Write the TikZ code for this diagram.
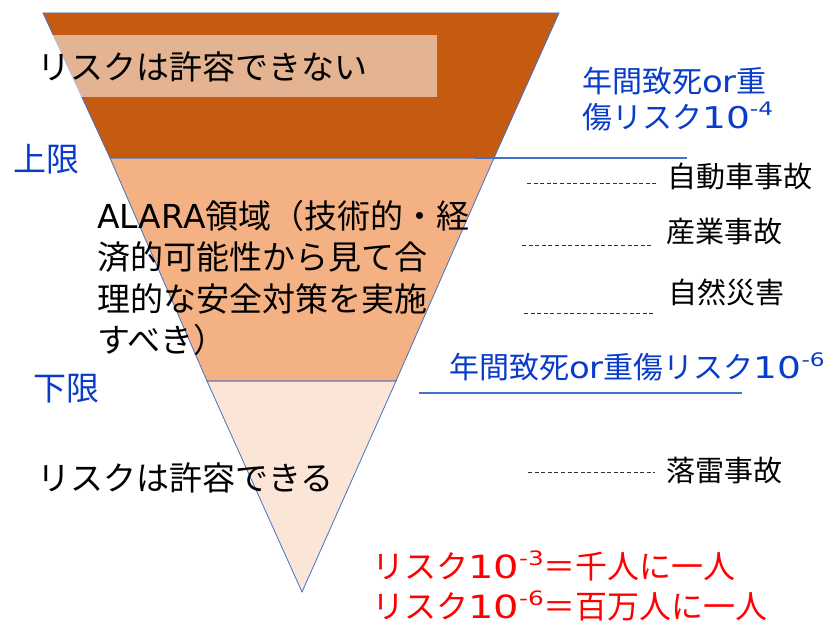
\documentclass[tikz,border=0pt]{standalone}
\usepackage{fontspec}
\setmainfont{Noto Sans CJK JP}
\newfontfamily\lat[FakeStretch=1.13]{DejaVu Sans}
\newfontfamily\latn{DejaVu Sans}
\newfontfamily\dig[FakeStretch=1.25]{DejaVu Sans}
\definecolor{darkor}{HTML}{C55A11}
\definecolor{midor}{HTML}{F4B183}
\definecolor{lightor}{HTML}{FBE5D6}
\definecolor{edge}{HTML}{4472C4}
\definecolor{bluetxt}{HTML}{0A3CCB}
\definecolor{redtxt}{HTML}{FF0000}
\newcommand{\supr}[1]{\raisebox{0.42em}{\fontsize{0.62em}{0.62em}\selectfont\dig #1}}
\begin{document}
\begin{tikzpicture}[x=1pt,y=-1pt,
  shapeline/.style={draw=edge,line width=0.8pt},
  limitline/.style={draw=edge,line width=2pt},
  dashline/.style={draw=black!80,line width=0.9pt,dash pattern=on 4pt off 2.6pt},
  bigtxt/.style={inner sep=0pt,anchor=west,font=\fontsize{33}{41.5}\selectfont,align=left},
  bluelbl/.style={inner sep=0pt,anchor=west,text=bluetxt,font=\fontsize{30}{36}\selectfont,align=left},
  bluebig/.style={inner sep=0pt,anchor=west,text=bluetxt,font=\fontsize{33}{40}\selectfont},
  eventlbl/.style={inner sep=0pt,anchor=west,font=\fontsize{29}{34}\selectfont},
  redlbl/.style={inner sep=0pt,anchor=west,text=redtxt,font=\fontsize{32}{40}\selectfont,align=left}
]
\useasboundingbox (0,0) rectangle (834,626);
% funnel
\coordinate (tl) at (43,13);
\coordinate (tr) at (559,13);
\coordinate (ul) at (110,158);
\coordinate (ur) at (494,158);
\coordinate (ll) at (207,381);
\coordinate (lr) at (396,381);
\coordinate (apex) at (302,592);
\fill[darkor] (tl) -- (tr) -- (ur) -- (ul) -- cycle;
\fill[midor] (ul) -- (ur) -- (lr) -- (ll) -- cycle;
\fill[lightor] (ll) -- (lr) -- (apex) -- cycle;
\draw[shapeline] (tl) -- (tr) -- (ur) -- (ul) -- cycle;
\draw[shapeline] (ul) -- (ur) -- (lr) -- (ll) -- cycle;
\draw[shapeline] (ll) -- (lr) -- (apex) -- cycle;
% translucent band
\fill[white,opacity=0.54] (30,35) rectangle (437,97);
% limit lines
\coordinate (u1) at (475,158);
\coordinate (u2) at (687,158);
\coordinate (d1) at (419,393);
\coordinate (d2) at (742,393);
\draw[limitline] (u1) -- (u2);
\draw[limitline] (d1) -- (d2);
% texts
\node[bigtxt] (notol) at (37,67) {リスクは許容できない};
\node[bigtxt] (alara) at (97,278) {{\latn ALARA}領域（技術的・経\\済的可能性から見て合\\理的な安全対策を実施\\すべき）};
\node[bigtxt] (tol) at (37,478) {リスクは許容できる};
\node[bluebig] (upper) at (13,159) {上限};
\node[bluebig] (lower) at (33,389) {下限};
\node[bluelbl] (r4) at (582,99) {年間致死{\lat or}重\\傷リスク{\dig 10}\supr{-4}};
\node[bluelbl] (r6) at (449,367) {年間致死{\lat or}重傷リスク{\dig 10}\supr{-6}};
\node[eventlbl] (car) at (667,177) {自動車事故};
\node[eventlbl] (ind) at (666,232) {産業事故};
\node[eventlbl] (nat) at (668,292) {自然災害};
\node[eventlbl] (thu) at (666,471) {落雷事故};
\node[redlbl] (red) at (372,586) {リスク{\dig 10}\supr{-3}＝千人に一人\\リスク{\dig 10}\supr{-6}＝百万人に一人};
% dashed leaders
\coordinate (c1) at (527,183); \coordinate (c2) at (658,183);
\coordinate (i1) at (522,245); \coordinate (i2) at (652,245);
\coordinate (n1) at (524,313); \coordinate (n2) at (655,313);
\coordinate (t1) at (528,472); \coordinate (t2) at (655,472);
\draw[dashline] (c1) -- (c2);
\draw[dashline] (i1) -- (i2);
\draw[dashline] (n1) -- (n2);
\draw[dashline] (t1) -- (t2);
\end{tikzpicture}
\end{document}
